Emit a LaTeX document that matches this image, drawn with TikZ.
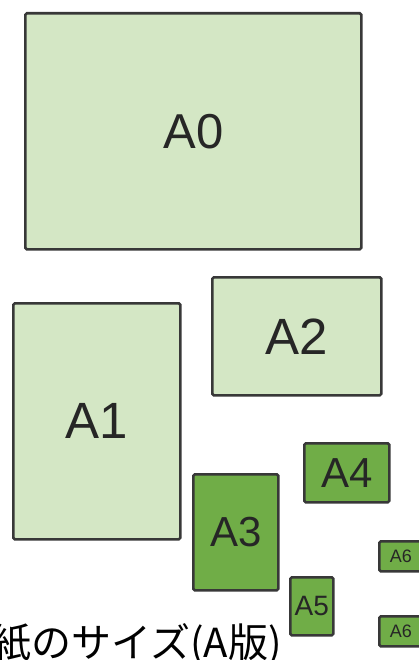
\documentclass[tikz,border=0pt]{standalone}
\usepackage{fontspec}
\setmainfont{Liberation Sans}
\newfontfamily\jpfont{Noto Sans CJK JP}
\definecolor{palegreen}{HTML}{D4E7C5}
\definecolor{leafgreen}{HTML}{70AD47}
\definecolor{edgegray}{HTML}{383838}
\newcommand{\fsz}[1]{\fontsize{#1}{#1}\selectfont}

\begin{document}
\begin{tikzpicture}[x=1pt,y=-1pt,
    sheet/.style={draw=edgegray, line width=2.6pt, rounded corners=1.5pt,
        inner sep=0pt, anchor=north west, text=black!85},
    bigsheet/.style={sheet, fill=palegreen},
    smallsheet/.style={sheet, fill=leafgreen}]
    \useasboundingbox (0,0) rectangle (418,660);
    % light sheets
    \node[bigsheet, minimum width=336pt, minimum height=236pt, font=\fsz{49}] (a0) at (24,12) {A0};
    \node[bigsheet, minimum width=167pt, minimum height=236pt, font=\fsz{51}] (a1) at (12,302) {A1};
    \node[bigsheet, minimum width=169pt, minimum height=118pt, font=\fsz{51}] (a2) at (211,276) {A2};
    % dark sheets
    \node[smallsheet, minimum width=85pt, minimum height=116pt, font=\fsz{42}] (a3) at (192,473) {A3};
    \node[smallsheet, minimum width=85pt, minimum height=59pt, font=\fsz{42}] (a4) at (303,442) {A4};
    \node[smallsheet, minimum width=43pt, minimum height=58pt, font=\fsz{28}] (a5) at (289,576) {A5};
    \node[smallsheet, minimum width=43pt, minimum height=30pt, font=\fsz{18}] (a6top) at (378,540) {A6};
    \node[smallsheet, minimum width=43pt, minimum height=30pt, font=\fsz{18}] (a6bot) at (378,615) {A6};
    \node[anchor=base east, inner sep=0pt, font=\jpfont\fsz{40}] (title) at (282,657) {紙のサイズ(A版)};
\end{tikzpicture}
\end{document}
